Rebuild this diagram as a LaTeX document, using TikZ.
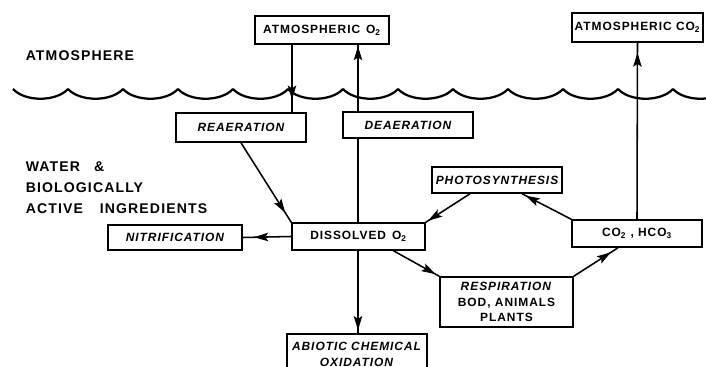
\documentclass[tikz,border=0pt]{standalone}
\usepackage{fontspec}
\setmainfont{Liberation Sans}[LetterSpace=8]
\usetikzlibrary{arrows.meta,decorations.markings,calc}
\begin{document}
\begin{tikzpicture}[x=0.025cm, y=-0.025cm, line width=1.1pt,
    every node/.style={font=\bfseries\fontsize{8.5}{11}\selectfont},
    box/.style={draw, fill=white, inner sep=2pt, minimum width=3.25cm,
      minimum height=0.7cm, align=center},
    zonetext/.style={font=\bfseries\fontsize{10}{12}\selectfont, inner sep=0pt, anchor=base west},
    wave/.style={line width=1.6pt},
    flow/.style={postaction={decorate}, decoration={markings,
      mark=at position #1 with {\arrow{Stealth[length=10pt, width=6pt, inset=2pt]}}}},
    flow/.default=-3pt]
    \useasboundingbox (0,0) rectangle (706,367);

    % water surface
    \begin{scope}
      \clip (0,0) rectangle (706,367);
      \foreach \w in {13,68,...,673}
        \draw[wave] (\w,89) .. controls ({\w+12},102) and ({\w+43},102) .. ({\w+55},89);
    \end{scope}

    \node[zonetext] (atm) at (25,61) {ATMOSPHERE};
    \node[zonetext] (water) at (25,172) {WATER\hspace{1em}\&};
    \node[zonetext] (bio) at (25,193) {BIOLOGICALLY};
    \node[zonetext] (active) at (25,214) {ACTIVE\hspace{1.2em}INGREDIENTS};

    \node[box, minimum width=3.35cm] (atmO) at (322,30) {ATMOSPHERIC\hspace{0.5em}O\textsubscript{2}};
    \node[box, minimum width=3.275cm, minimum height=0.725cm] (atmC) at (637.5,27.5) {ATMOSPHERIC CO\textsubscript{2}};
    \node[box, minimum height=0.725cm] (reaer) at (241,127.5) {\itshape REAERATION};
    \node[box, minimum width=3.325cm, minimum height=0.675cm] (dis) at (358.5,236.5) {DISSOLVED\hspace{0.5em}O\textsubscript{2}};
    \node[box, minimum width=3.35cm, minimum height=0.625cm] (nitr) at (175,237.5) {\itshape NITRIFICATION};
    \node[box, minimum height=0.65cm] (photo) at (497,180) {\itshape PHOTOSYNTHESIS};
    \node[box, minimum height=0.675cm] (co2) at (637,233.5) {CO\textsubscript{2} , HCO\textsubscript{3}};
    \node[box, minimum width=3.325cm, minimum height=1.25cm] (resp) at (506.5,302)
      {\textit{RESPIRATION}\\BOD, ANIMALS\\PLANTS};
    \node[box, minimum width=3.5cm, anchor=north, inner ysep=6pt] (abio) at (357,333)
      {\textit{ABIOTIC CHEMICAL}\\\textit{OXIDATION}};

    % exchange with the atmosphere
    \coordinate (ra) at (292,0);
    \coordinate (da) at (358,0);
    \draw[flow=-9pt] (atmO.south -| ra) -- (reaer.north -| ra);
    \draw[flow=-1pt] (dis.north -| da) -- (atmO.south -| da);
    \node[box, minimum height=0.65cm] (deaer) at (408,125) {\itshape DEAERATION};
    \draw[flow=-7pt] (co2.north) -- (atmC.south);

    % processes in the water
    \draw[flow=-8pt] (reaer.south) -- (dis.north west);
    \draw[flow=-8pt] (dis.west) -- (nitr.east);
    \draw[flow=-2pt] (dis.south -| da) -- (abio.north -| da);
    \draw[flow=-3pt] (co2.north west) -- ($(photo.south)+(25,0)$);
    \draw[flow=-2pt] ($(photo.south)+(-27,0)$) -- (dis.north east);
    \draw[flow=-3pt] ($(dis.south)+(35,0)$) -- (resp.north west);
    \draw[flow=-6pt] (resp.north east) -- ($(co2.south)+(-19,0)$);
\end{tikzpicture}
\end{document}
